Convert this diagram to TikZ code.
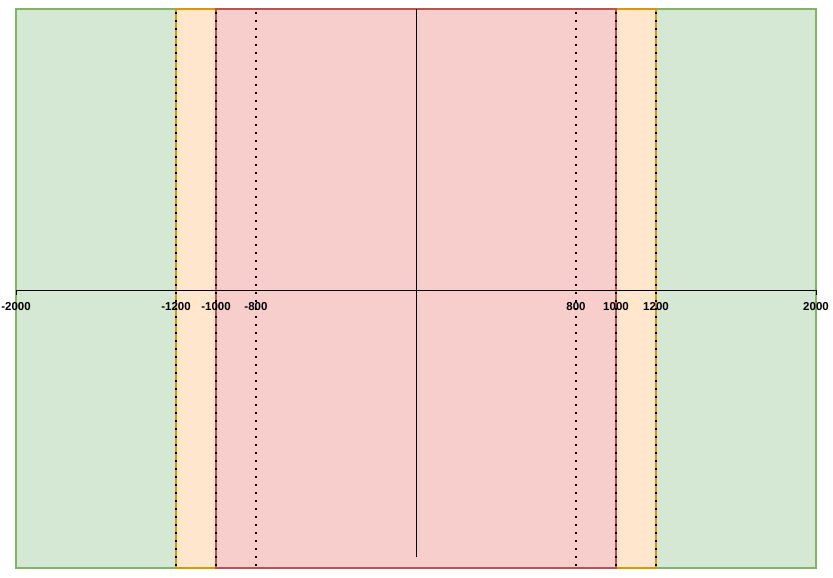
\documentclass[tikz,border=0pt]{standalone}
\usepackage{fontspec}
\setmainfont{Liberation Sans}
\definecolor{gfill}{HTML}{D5E8D4}\definecolor{gline}{HTML}{82B366}
\definecolor{ofill}{HTML}{FFE6CC}\definecolor{oline}{HTML}{D79B00}
\definecolor{rfill}{HTML}{F8CECC}\definecolor{rline}{HTML}{B85450}
\begin{document}
\begin{tikzpicture}[x=1pt,y=-1pt,
  zone/.style={line width=1.2pt},
  green zone/.style={zone,fill=gfill,draw=gline},
  orange zone/.style={zone,fill=ofill,draw=oline},
  red zone/.style={zone,fill=rfill,draw=rline},
  guide/.style={line width=2pt,dash pattern=on 2pt off 6pt,black},
  axis/.style={line width=1pt,black},
  lbl/.style={font=\bfseries\fontsize{11.5}{13}\selectfont,inner sep=0pt,anchor=center}]
\useasboundingbox (0,0) rectangle (833,578);
\path[green zone] (16,9) rectangle (176,568);
\path[green zone] (656,9) rectangle (816,568);
\path[orange zone] (176,9) rectangle (216,568);
\path[orange zone] (616,9) rectangle (656,568);
\path[red zone] (216,9) rectangle (616,568);
\foreach \x in {176,216,256,576,616,656}{\draw[guide] (\x,12) -- (\x,568);}
\coordinate (top) at (416,9);
\coordinate (bot) at (416,557);
\coordinate (left) at (16,290);
\coordinate (right) at (816,290);
\draw[axis] (top) -- (bot);
\draw[axis] (left) -- (right);
\draw[axis] (16,290) -- (16,295);
\draw[axis] (816,290) -- (816,295);
\node[lbl] (m2000) at (16,307) {-2000};
\node[lbl] (m1200) at (176,307) {-1200};
\node[lbl] (m1000) at (216,307) {-1000};
\node[lbl] (m800) at (256,307) {-800};
\node[lbl] (p800) at (576,307) {800};
\node[lbl] (p1000) at (616,307) {1000};
\node[lbl] (p1200) at (656,307) {1200};
\node[lbl] (p2000) at (816,307) {2000};
\end{tikzpicture}
\end{document}
